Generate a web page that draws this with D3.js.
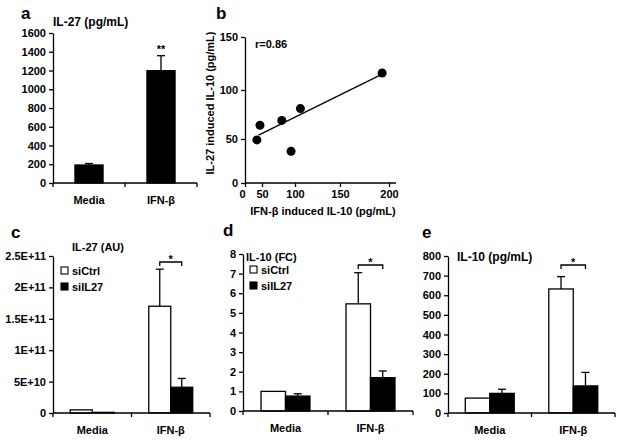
<!DOCTYPE html>
<html><head><meta charset="utf-8">
<script src="https://cdn.jsdelivr.net/npm/d3@7"></script>
<style>
body{margin:0;background:#fff}
svg{display:block}
text{font-family:"Liberation Sans",Arial,sans-serif;font-weight:bold;fill:#000}
</style>
</head><body>
<svg id="chart" width="621" height="441"></svg>
<script>
// ---------- data ----------
const categories = ["Media", "IFN-β"];
const seriesNames = ["siCtrl", "siIL27"];

// panel a: IL-27 (pg/mL)
const aMean = [192, 1198];
const aErr = [16, 160];
const aTicks = [0, 200, 400, 600, 800, 1000, 1200, 1400, 1600];

// panel b: scatter
const bX = [35, 44, 80, 94, 106, 193];
const bY = [49, 64, 69, 36, 81, 116];
const bFitX = [40, 191];
const bFitY = [54, 114];
const bXTicks = [0, 50, 100, 150, 200];
const bYTicks = [0, 50, 100, 150];

// panel c: IL-27 (AU)
const cCtrl = [5e9, 1.70e11];
const cCtrlErr = [0, 5.9e10];
const cSi = [1e9, 4.1e10];
const cSiErr = [0, 1.4e10];
const cTicks = [0, 5e10, 1e11, 1.5e11, 2e11, 2.5e11];
const cTickLabels = ["0", "5E+10", "1E+11", "1.5E+11", "2E+11", "2.5E+11"];

// panel d: IL-10 (FC)
const dCtrl = [1.0, 5.46];
const dCtrlErr = [0, 1.59];
const dSi = [0.76, 1.7];
const dSiErr = [0.12, 0.34];
const dTicks = [0, 1, 2, 3, 4, 5, 6, 7, 8];

// panel e: IL-10 (pg/mL)
const eCtrl = [76, 632];
const eCtrlErr = [0, 63];
const eSi = [100, 138];
const eSiErr = [21, 69];
const eTicks = [0, 100, 200, 300, 400, 500, 600, 700, 800];

// ---------- drawing ----------
const svg = d3.select("#chart");
const FS = 11;

function letter(t, x, y) {
  svg.append("text").attr("x", x).attr("y", y).attr("font-size", 17).text(t);
}

function yAxis(g, scale, ticks, labels, x) {
  const ax = d3.axisLeft(scale).tickValues(ticks).tickSize(4).tickSizeOuter(0).tickPadding(3);
  if (labels) ax.tickFormat((d, i) => labels[i]);
  else ax.tickFormat(d3.format("d"));
  const grp = g.append("g").attr("transform", `translate(${x},0)`).call(ax);
  grp.attr("font-family", null).attr("font-size", null);
  grp.selectAll("text").attr("font-size", FS);
  grp.selectAll("line,path").attr("stroke", "#000").attr("stroke-width", 1.3);
  return grp;
}

function barPanel(p) {
  const g = svg.append("g");
  const y = d3.scaleLinear().domain([0, p.max]).range([p.yBot, p.yTop]);
  const x = d3.scaleBand().domain(categories).range([p.x0, p.x1]);
  const bw = x.bandwidth() * p.barFrac;
  const n = p.series.length;
  const sub = d3.scaleBand().domain(p.series.map(s => s.name)).range([-bw * n / 2, bw * n / 2]);

  p.series.forEach(s => {
    categories.forEach((c, i) => {
      const cx = x(c) + x.bandwidth() / 2 + sub(s.name);
      const v = s.values[i];
      g.append("rect").attr("x", cx).attr("y", y(v)).attr("width", sub.bandwidth())
        .attr("height", y(0) - y(v)).attr("fill", s.fill).attr("stroke", "#000").attr("stroke-width", 1.3);
      const e = s.errs[i];
      if (e > 0) {
        const mx = cx + sub.bandwidth() / 2;
        g.append("line").attr("x1", mx).attr("x2", mx).attr("y1", y(v)).attr("y2", y(v + e))
          .attr("stroke", "#000").attr("stroke-width", 1.3);
        g.append("line").attr("x1", mx - 4).attr("x2", mx + 4).attr("y1", y(v + e)).attr("y2", y(v + e))
          .attr("stroke", "#000").attr("stroke-width", 1.3);
      }
    });
  });

  // y axis
  yAxis(g, y, p.ticks, p.tickLabels, p.x0);
  // x axis
  g.append("line").attr("x1", p.x0).attr("x2", p.x1).attr("y1", p.yBot).attr("y2", p.yBot)
    .attr("stroke", "#000").attr("stroke-width", 1.3);
  const bounds = [p.x0].concat(categories.map(c => x(c) + x.bandwidth()));
  bounds.forEach(bx => {
    g.append("line").attr("x1", bx).attr("x2", bx).attr("y1", p.yBot).attr("y2", p.yBot + 4)
      .attr("stroke", "#000").attr("stroke-width", 1.3);
  });
  categories.forEach(c => {
    g.append("text").attr("x", x(c) + x.bandwidth() / 2).attr("y", p.yBot + 21)
      .attr("text-anchor", "middle").attr("font-size", FS).text(c);
  });

  // title
  g.append("text").attr("x", p.titleX).attr("y", p.titleY).attr("font-size", p.titleFS || FS).text(p.title);

  // legend
  if (p.legend) {
    p.series.forEach((s, i) => {
      const ly = p.legend.y + i * 16;
      g.append("rect").attr("x", p.legend.x).attr("y", ly).attr("width", 7).attr("height", 7)
        .attr("fill", s.fill).attr("stroke", "#000").attr("stroke-width", 1.1);
      g.append("text").attr("x", p.legend.x + 11).attr("y", ly + 8).attr("font-size", FS).text(s.name);
    });
  }

  // significance
  if (p.sig) {
    const c = categories[p.sig.cat];
    if (n === 1) {
      const s = p.series[0];
      const top = s.values[p.sig.cat] + s.errs[p.sig.cat];
      g.append("text").attr("x", x(c) + x.bandwidth() / 2).attr("y", y(top) - 3)
        .attr("text-anchor", "middle").attr("font-size", FS).text(p.sig.mark);
    } else {
      const xa = x(c) + x.bandwidth() / 2 + sub(p.series[0].name) + sub.bandwidth() / 2;
      const xb = x(c) + x.bandwidth() / 2 + sub(p.series[1].name) + sub.bandwidth() / 2;
      const by = p.sig.y;
      g.append("path").attr("d", `M${xa},${by + 4}V${by}H${xb}V${by + 4}`)
        .attr("fill", "none").attr("stroke", "#000").attr("stroke-width", 1.3);
      g.append("text").attr("x", (xa + xb) / 2).attr("y", by + 1)
        .attr("text-anchor", "middle").attr("font-size", FS).text(p.sig.mark);
    }
  }
}

// panel a
letter("a", 21, 19);
barPanel({
  x0: 53, x1: 197, yTop: 33, yBot: 183, max: 1600, ticks: aTicks, barFrac: 0.39,
  series: [{ name: "IL-27", values: aMean, errs: aErr, fill: "#000" }],
  title: "IL-27 (pg/mL)", titleX: 53, titleY: 26, titleFS: 12,
  sig: { cat: 1, mark: "**" }
});

// panel c
letter("c", 11, 238);
barPanel({
  x0: 53, x1: 210, yTop: 256, yBot: 413, max: 2.5e11, ticks: cTicks, tickLabels: cTickLabels, barFrac: 0.28,
  series: [
    { name: seriesNames[0], values: cCtrl, errs: cCtrlErr, fill: "#fff" },
    { name: seriesNames[1], values: cSi, errs: cSiErr, fill: "#000" }
  ],
  title: "IL-27 (AU)", titleX: 72, titleY: 251,
  legend: { x: 61, y: 267 },
  sig: { cat: 1, mark: "*", y: 262 }
});

// panel d
letter("d", 223, 236);
barPanel({
  x0: 243, x1: 413, yTop: 254, yBot: 411, max: 8, ticks: dTicks, barFrac: 0.288,
  series: [
    { name: seriesNames[0], values: dCtrl, errs: dCtrlErr, fill: "#fff" },
    { name: seriesNames[1], values: dSi, errs: dSiErr, fill: "#000" }
  ],
  title: "IL-10 (FC)", titleX: 246, titleY: 261,
  legend: { x: 250, y: 266 },
  sig: { cat: 1, mark: "*", y: 265 }
});

// panel e
letter("e", 422, 238);
barPanel({
  x0: 448, x1: 615, yTop: 256, yBot: 413, max: 800, ticks: eTicks, barFrac: 0.293,
  series: [
    { name: seriesNames[0], values: eCtrl, errs: eCtrlErr, fill: "#fff" },
    { name: seriesNames[1], values: eSi, errs: eSiErr, fill: "#000" }
  ],
  title: "IL-10 (pg/mL)", titleX: 457, titleY: 261, titleFS: 12,
  sig: { cat: 1, mark: "*", y: 265 }
});

// panel b (scatter)
letter("b", 216, 19);
(function () {
  const g = svg.append("g");
  const x = d3.scaleLinear().domain(bXTicks).range([245, 262, 295, 340, 389]);
  const y = d3.scaleLinear().domain(bYTicks).range([183, 139, 90, 37]);
  // x axis
  const xa = d3.axisBottom(x).tickValues(bXTicks).tickSize(4).tickSizeOuter(0).tickPadding(3);
  const gx = g.append("g").attr("transform", "translate(0,183)").call(xa);
  gx.attr("font-family", null).attr("font-size", null);
  gx.selectAll("text").attr("font-size", FS);
  gx.selectAll("line").attr("stroke", "#000").attr("stroke-width", 1.3);
  gx.select(".domain").remove();
  g.append("line").attr("x1", 245).attr("x2", 396).attr("y1", 183).attr("y2", 183)
    .attr("stroke", "#000").attr("stroke-width", 1.3);
  gx.selectAll(".tick").filter(d => d === 0).select("text").attr("dx", -3);
  // y axis
  yAxis(g, y, bYTicks, null, 245);
  // fit line
  g.append("line").attr("x1", x(bFitX[0])).attr("y1", y(bFitY[0]))
    .attr("x2", x(bFitX[1])).attr("y2", y(bFitY[1]))
    .attr("stroke", "#000").attr("stroke-width", 1.3);
  // points
  g.selectAll("circle.pt").data(bX).enter().append("circle")
    .attr("cx", d => x(d)).attr("cy", (d, i) => y(bY[i])).attr("r", 4.5).attr("fill", "#000");
  g.append("text").attr("x", 255).attr("y", 48).attr("font-size", FS).text("r=0.86");
  g.append("text").attr("x", 323).attr("y", 215).attr("text-anchor", "middle").attr("font-size", FS)
    .text("IFN-β induced IL-10 (pg/mL)");
  g.append("text").attr("transform", "translate(214,103) rotate(-90)").attr("text-anchor", "middle")
    .attr("font-size", FS).text("IL-27 induced IL-10 (pg/mL)");
})();
</script>
</body></html>
